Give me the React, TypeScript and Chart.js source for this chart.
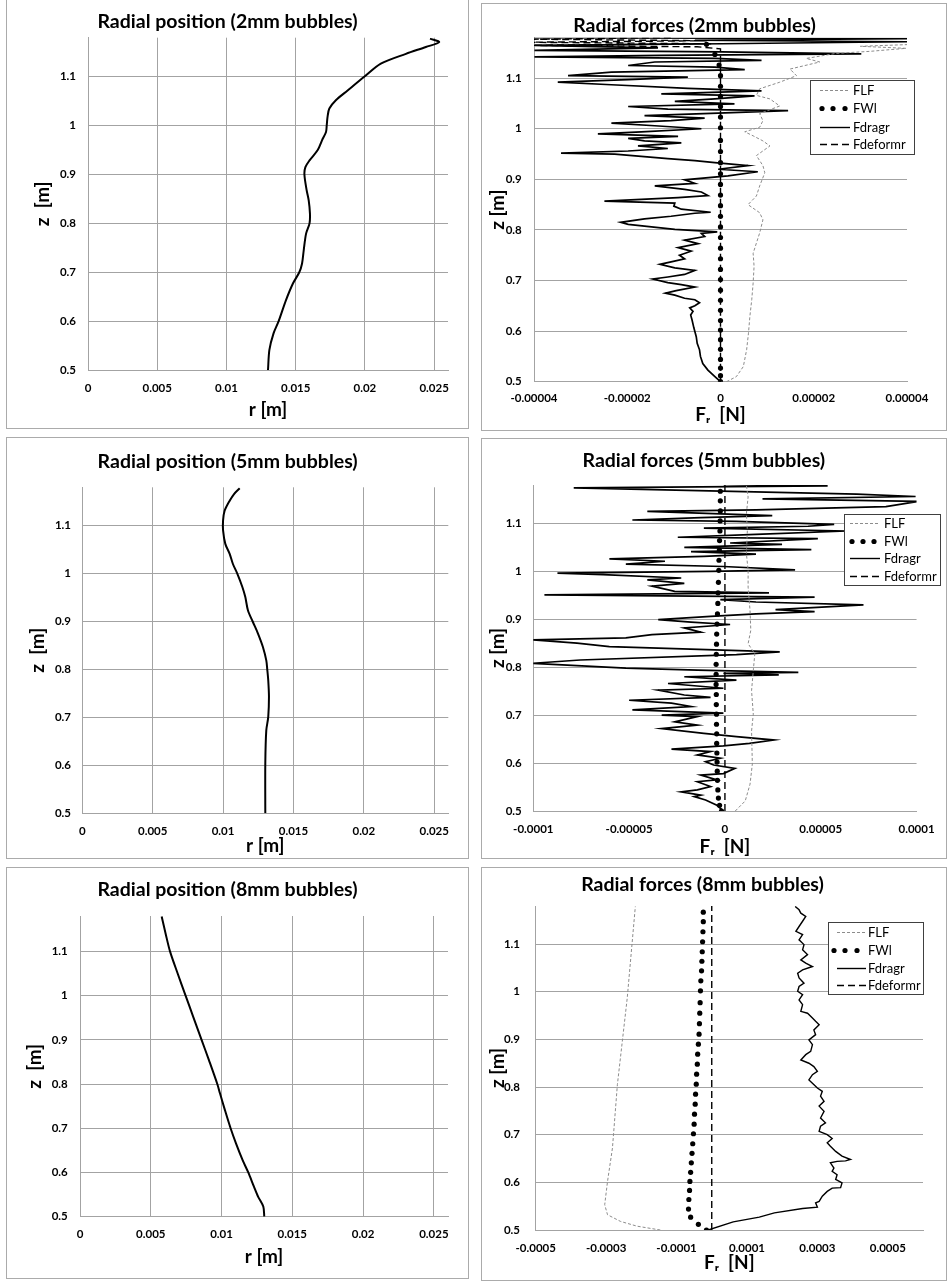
import { useEffect, useRef } from 'react';
import { Chart, registerables } from 'chart.js';

Chart.register(...registerables);

// ---------------- Radial position r(z) ----------------
const pos2Z = [0.5, 0.541, 0.575, 0.6, 0.643, 0.677, 0.7, 0.718, 0.745, 0.779, 0.8, 0.82, 0.847, 0.868, 0.9, 0.915, 0.929, 0.95, 0.97, 0.987, 1.0, 1.018, 1.035, 1.052, 1.072, 1.1, 1.127, 1.147, 1.161, 1.171, 1.178];
const pos2R = [0.013, 0.0131, 0.0134, 0.01377, 0.0143, 0.0148, 0.01526, 0.01546, 0.01558, 0.01575, 0.016, 0.01603, 0.01594, 0.01579, 0.01563, 0.0157, 0.016, 0.01659, 0.0169, 0.01719, 0.01724, 0.0173, 0.01743, 0.0179, 0.01875, 0.01995, 0.02115, 0.02296, 0.0244, 0.02536, 0.0247];

const pos5Z = [0.5, 0.604, 0.673, 0.701, 0.743, 0.777, 0.8, 0.819, 0.847, 0.875, 0.899, 0.923, 0.951, 0.972, 1.0, 1.02, 1.041, 1.062, 1.09, 1.111, 1.131, 1.152, 1.166, 1.178];
const pos5R = [0.013, 0.013, 0.01307, 0.01321, 0.01326, 0.01321, 0.01314, 0.01307, 0.01283, 0.01248, 0.01212, 0.01177, 0.01158, 0.01137, 0.01101, 0.0107, 0.01047, 0.01016, 0.01, 0.01, 0.01011, 0.01047, 0.01078, 0.01118];

const pos8Z = [0.5, 0.523, 0.545, 0.568, 0.6, 0.628, 0.666, 0.7, 0.741, 0.779, 0.8, 0.854, 0.9, 0.952, 1.0, 1.05, 1.1, 1.14, 1.179];
const pos8R = [0.01302, 0.01295, 0.01259, 0.01229, 0.01189, 0.01149, 0.01102, 0.01064, 0.01024, 0.00989, 0.0097, 0.00911, 0.00859, 0.008, 0.00746, 0.0069, 0.00636, 0.00605, 0.00577];

// ---------------- Radial forces (values in µN) ----------------
const MICRO = 1e-6;

// wall-lubrication force, sampled at the same heights in every case
const fwlZ = [0.5, 0.512, 0.527, 0.544, 0.564, 0.583, 0.602, 0.621, 0.641, 0.661, 0.681, 0.702, 0.722, 0.743, 0.764, 0.785, 0.806, 0.827, 0.848, 0.869, 0.89, 0.911, 0.933, 0.955, 0.977, 1.002, 1.023, 1.044, 1.064, 1.084, 1.105, 1.126, 1.147, 1.167];
const fwl2 = [0, 0, 0, 0, 0, 0, 0, 0, 0, 0, 0, 0, 0, 0, 0, 0, 0, 0, 0, 0, 0, 0, 0, 0, 0, 0, 0, 0, 0, 0, 0, -0.3, -1.2, -3];
const fwl5 = [-1.8, -2.8, -3.4, -3.7, -3.9, -4.0, -4.1, -4.2, -4.3, -4.3, -4.4, -4.4, -4.5, -4.5, -4.6, -4.6, -4.6, -4.5, -4.4, -4.3, -4.1, -3.9, -3.7, -3.6, -3.4, -3.2, -3.1, -2.9, -2.8, -2.6, -2.5, -2.4, -2.4, -2.4];
const fwl8 = [-15, -38, -60, -66, -65, -63, -62, -60, -58, -56, -54, -52, -50, -49, -47, -46, -44, -43, -41, -40, -38, -36, -35, -34, -33, -32, -31, -29, -28, -27, -26, -25, -24, -24];

// lift force
const flf2Z = [0.5, 0.51, 0.53, 0.563, 0.596, 0.629, 0.662, 0.695, 0.728, 0.754, 0.774, 0.794, 0.82, 0.834, 0.85, 0.867, 0.887, 0.913, 0.927, 0.947, 0.966, 0.976, 0.986, 0.994, 1.003, 1.016, 1.03, 1.045, 1.059, 1.066, 1.079, 1.092, 1.105, 1.118, 1.132, 1.139, 1.149, 1.153, 1.159, 1.163, 1.168, 1.175];
const flf2X = [1.3, 3.4, 4.9, 5.6, 6.0, 6.3, 6.7, 7.0, 7.2, 7.0, 7.7, 8.4, 9.1, 8.4, 5.9, 7.7, 8.4, 9.5, 9.1, 7.7, 10.6, 9.1, 7.0, 5.2, 8.4, 9.1, 8.4, 12.7, 10.6, 7.7, 8.4, 12.7, 16.3, 14.9, 21.3, 18.4, 24.8, 32.0, 39.8, 30, 45, 50];
const flf5Z = [0.5, 0.521, 0.556, 0.598, 0.667, 0.702, 0.751, 0.793, 0.828, 0.849, 0.877, 0.918, 0.967, 1.002, 1.037, 1.085, 1.12, 1.155, 1.179];
const flf5X = [5.4, 10.6, 13.1, 14.3, 13.9, 14.8, 13.9, 14.8, 15.6, 12.1, 13.5, 13.1, 12.1, 12.1, 11.2, 11.7, 11.2, 12.1, 11.2];
const flf8Z = [0.5, 0.508, 0.518, 0.532, 0.553, 0.602, 0.672, 0.805, 0.987, 1.179];
const flf8X = [-146, -212, -259, -296, -304, -296, -282, -268, -240, -217];

// drag force
const drag2Z = [0.5, 0.51, 0.523, 0.536, 0.55, 0.563, 0.576, 0.589, 0.606, 0.622, 0.632, 0.639, 0.646, 0.65, 0.656, 0.662, 0.665, 0.671, 0.675, 0.68, 0.687, 0.692, 0.696, 0.703, 0.707, 0.712, 0.72, 0.725, 0.732, 0.737, 0.743, 0.75, 0.758, 0.765, 0.773, 0.78, 0.787, 0.793, 0.796, 0.801, 0.806, 0.811, 0.815, 0.822, 0.827, 0.833, 0.835, 0.841, 0.847, 0.853, 0.857, 0.864, 0.868, 0.875, 0.88, 0.887, 0.892, 0.899, 0.907, 0.915, 0.92, 0.927, 0.933, 0.937, 0.941, 0.95, 0.952, 0.956, 0.961, 0.966, 0.972, 0.976, 0.981, 0.985, 0.99, 0.994, 1.0, 1.006, 1.011, 1.016, 1.021, 1.026, 1.031, 1.036, 1.039, 1.044, 1.049, 1.054, 1.059, 1.065, 1.069, 1.075, 1.08, 1.087, 1.092, 1.097, 1.102, 1.105, 1.112, 1.117, 1.122, 1.125, 1.132, 1.135, 1.139, 1.142, 1.145, 1.148, 1.152, 1.155, 1.16, 1.165, 1.168, 1.172, 1.175, 1.178, 1.18];
const drag2X = [0, -1.2, -2.7, -3.8, -4.3, -4.5, -5.0, -5.2, -5.7, -6.1, -6.4, -5.9, -6.6, -5.5, -4.5, -5.5, -7.7, -9.8, -11.8, -9.5, -5.5, -8.4, -11.3, -14.5, -11.3, -7.7, -5.5, -9.8, -13.0, -10.6, -7.7, -8.8, -6.3, -9.1, -4.8, -7.7, -3.4, -4.1, -0.7, -9.8, -14.8, -19.8, -21.4, -16.3, -10.6, -5.5, -2.1, -8.4, -10, -9.8, -24.9, -9.1, -2.7, -4.1, -7.7, -14.1, -5.5, -7.7, 1.6, 8.0, -0.5, 5.9, -1.2, -5.5, -11.3, -22.7, -34.2, -19.8, -11.3, -17.7, -8.4, -16.3, -19.8, -9.1, -26.3, -17.0, -4.1, -14.1, -23.4, -10.6, -3.4, -16.3, -0.5, 14.5, -11.3, -19.8, 3.0, -9.8, -1.2, 7.3, -12.7, 8.8, -7.0, -23.4, -34.9, -19.8, -7.0, -32.7, -23.4, 5.2, -1.2, -19.8, -14.1, 8.8, -1.2, -39.9, -12.7, 30.2, 0.2, -39.9, -13.4, -39.9, 0.2, 40.2, -5.5, 40.2, -39.9];
const drag5Z = [0.5, 0.512, 0.523, 0.53, 0.533, 0.54, 0.544, 0.551, 0.561, 0.565, 0.575, 0.578, 0.589, 0.596, 0.603, 0.61, 0.617, 0.624, 0.629, 0.636, 0.641, 0.648, 0.655, 0.662, 0.672, 0.679, 0.686, 0.697, 0.7, 0.704, 0.711, 0.718, 0.725, 0.731, 0.737, 0.742, 0.752, 0.756, 0.766, 0.773, 0.78, 0.784, 0.787, 0.789, 0.794, 0.798, 0.808, 0.815, 0.826, 0.832, 0.843, 0.85, 0.857, 0.861, 0.868, 0.873, 0.882, 0.889, 0.894, 0.899, 0.906, 0.911, 0.916, 0.92, 0.93, 0.936, 0.941, 0.946, 0.951, 0.955, 0.958, 0.969, 0.975, 0.982, 0.986, 0.993, 0.996, 1.0, 1.003, 1.01, 1.015, 1.021, 1.026, 1.031, 1.036, 1.041, 1.045, 1.05, 1.056, 1.059, 1.068, 1.071, 1.077, 1.084, 1.09, 1.094, 1.098, 1.104, 1.107, 1.112, 1.116, 1.125, 1.128, 1.135, 1.146, 1.151, 1.156, 1.161, 1.174, 1.178, 1.181];
const drag5X = [-0.8, -4.2, -10.1, -16.0, -12.6, -22.8, -14.4, -7.5, -14.4, -4.2, -12.6, -0.8, 5.2, -5.9, -10.1, -2.4, -14.4, -7.5, -27.9, -0.8, 12.8, 25.6, 6.0, -11.0, -33.0, -14.4, -26.2, -14.4, -33.0, -0.8, -48.3, -17.7, -27.9, -50.0, -7.5, -21.2, -34.8, -0.8, -29.7, 6.0, -21.2, 28.1, -0.8, 38.3, -14.4, -51.7, -101, -75.5, 6.0, 28.6, -60.3, -77.2, -101, -51.7, -38.1, -12.6, -21.2, 2.7, -17.7, -34.8, -7.5, 16.2, 46.8, 26.4, 72.3, 16.2, -2.4, 46.8, -94.2, 23.0, -26.2, -38.1, -21.2, -40.5, -22.8, -63.6, -87.4, -7.5, 36.6, -0.8, -51.7, -31.3, -60.3, -11.0, 16.2, -17.7, 45.1, -21.2, 29.8, 2.7, 48.5, -24.6, 16.2, 63.5, -11.0, 43.4, 57.0, 6.0, -48.3, -12.6, 24.7, -40.5, 16.2, 84.0, 101, 19.6, 99.5, 68.8, -78.9, 53.6, -0.8];
const drag8Z = [0.5, 0.517, 0.527, 0.536, 0.545, 0.548, 0.557, 0.56, 0.571, 0.581, 0.588, 0.589, 0.599, 0.606, 0.616, 0.623, 0.63, 0.641, 0.644, 0.645, 0.648, 0.655, 0.665, 0.676, 0.683, 0.692, 0.7, 0.707, 0.718, 0.725, 0.735, 0.749, 0.76, 0.77, 0.781, 0.791, 0.798, 0.808, 0.815, 0.826, 0.833, 0.843, 0.85, 0.857, 0.868, 0.875, 0.889, 0.899, 0.91, 0.92, 0.931, 0.938, 0.945, 0.955, 0.959, 0.973, 0.983, 0.994, 1.001, 1.011, 1.018, 1.029, 1.039, 1.046, 1.053, 1.06, 1.067, 1.078, 1.088, 1.099, 1.109, 1.12, 1.127, 1.137, 1.148, 1.158, 1.165, 1.172, 1.179];
const drag8X = [-10, 61, 135, 178, 258, 300, 295, 305, 314, 328, 342, 366, 370, 352, 356, 342, 347, 337, 356, 380, 394, 370, 352, 337, 328, 342, 328, 305, 309, 323, 309, 319, 305, 319, 309, 314, 300, 286, 276, 286, 300, 290, 276, 253, 267, 281, 286, 276, 295, 290, 305, 295, 286, 272, 253, 258, 248, 258, 244, 248, 262, 248, 244, 258, 286, 267, 253, 272, 258, 262, 248, 258, 239, 248, 258, 267, 253, 248, 237];

// deformation force
const deform2Z = [0.5, 1.158, 1.162, 1.165, 1.168, 1.171, 1.174, 1.177, 1.18];
const deform2X = [0, 0, -5, -42, -2, -42, -3, -40, -10];
const deform5Z = [0.5, 1.18];
const deform5X = [0, 0];
const deform8Z = [0.5, 1.18];
const deform8X = [0, 0];

// ---------------- Axes ----------------
const zTicks = [0.5, 0.6, 0.7, 0.8, 0.9, 1.0, 1.1];
const zTickLabels = ['0.5', '0.6', '0.7', '0.8', '0.9', '1', '1.1'];
const rTicks = [0, 0.005, 0.01, 0.015, 0.02, 0.025];
const rTickLabels = ['0', '0.005', '0.01', '0.015', '0.02', '0.025'];
const f2Ticks = [-0.00004, -0.00002, 0, 0.00002, 0.00004];
const f2TickLabels = ['-0.00004', '-0.00002', '0', '0.00002', '0.00004'];
const f5Ticks = [-0.0001, -0.00005, 0, 0.00005, 0.0001];
const f5TickLabels = ['-0.0001', '-0.00005', '0', '0.00005', '0.0001'];
const f8Ticks = [-0.0005, -0.0003, -0.0001, 0.0001, 0.0003, 0.0005];
const f8TickLabels = ['-0.0005', '-0.0003', '-0.0001', '0.0001', '0.0003', '0.0005'];

const FONT = 'Lato, "Open Sans", "DejaVu Sans", sans-serif';
const GRID = '#a3a3a3';
const TITLE_SIZE = 19.5;
const AXIS_SIZE = 19;
const TICK_SIZE = 11.5;
const LH = 1.2;

type Geo = {
  cx: number; cy: number; cw: number; ch: number;
  l: number; r: number; t: number; b: number;
  titleY: number; yTitleX: number; xTitleY: number; yPad: number; xPad: number;
};

type LegendGeo = { x: number; y: number; w: number; h: number; rows: number[]; s0: number; s1: number; dots: number[]; tx: number };

const pts = (xs: number[], ys: number[], k = 1) => xs.map((x, i) => ({ x: x * k, y: ys[i] }));

function boxLegend(lg: LegendGeo) {
  return {
    id: 'boxLegend',
    afterDraw(chart: any) {
      const { ctx } = chart;
      ctx.save();
      ctx.fillStyle = '#ffffff';
      ctx.fillRect(lg.x, lg.y, lg.w, lg.h);
      ctx.strokeStyle = '#404040';
      ctx.lineWidth = 1;
      ctx.strokeRect(lg.x + 0.5, lg.y + 0.5, lg.w, lg.h);
      chart.data.datasets.forEach((ds: any, i: number) => {
        const ry = lg.y + lg.rows[i] + 0.5;
        if (ds.showLine === false) {
          ctx.fillStyle = '#000';
          lg.dots.forEach((dx) => {
            ctx.beginPath();
            ctx.arc(lg.x + dx, ry, ds.pointRadius, 0, Math.PI * 2);
            ctx.fill();
          });
        } else {
          ctx.strokeStyle = ds.borderColor;
          ctx.lineWidth = Math.min(ds.borderWidth, 1.4);
          ctx.setLineDash(ds.borderDash || []);
          ctx.beginPath();
          ctx.moveTo(lg.x + lg.s0, ry);
          ctx.lineTo(lg.x + lg.s1, ry);
          ctx.stroke();
          ctx.setLineDash([]);
        }
        ctx.fillStyle = '#000';
        ctx.font = `13px ${FONT}`;
        ctx.textBaseline = 'middle';
        ctx.textAlign = 'left';
        ctx.fillText(ds.label, lg.x + lg.tx, ry);
      });
      ctx.restore();
    },
  };
}

function buildOptions(g: Geo, title: string, xMin: number, xMax: number, xTicks: number[], xLabels: string[], xTitle: string, yTitle: string, fullGrid: boolean) {
  const tLH = TITLE_SIZE * LH;
  const aLH = AXIS_SIZE * LH;
  const tickFont = { family: FONT, size: TICK_SIZE, weight: 'bold' as const };
  const axisFont = { family: FONT, size: AXIS_SIZE, weight: 'bold' as const, lineHeight: LH };
  return {
    responsive: false,
    animation: false as const,
    events: [] as any[],
    layout: { padding: { left: 0, top: 0, right: g.cw - g.r, bottom: 0 }, autoPadding: false },
    plugins: {
      legend: { display: false },
      tooltip: { enabled: false },
      title: {
        display: true,
        text: title,
        color: '#000',
        font: { family: FONT, size: TITLE_SIZE, weight: 'bold' as const, lineHeight: LH },
        padding: { top: Math.max(0, g.titleY - tLH / 2), bottom: Math.max(0, g.t - g.titleY - tLH / 2) },
      },
    },
    scales: {
      x: {
        type: 'linear' as const,
        min: xMin,
        max: xMax,
        afterBuildTicks: (s: any) => { s.ticks = xTicks.map((v) => ({ value: v })); },
        afterFit: (s: any) => { s.height = g.ch - g.b; },
        ticks: { autoSkip: false, maxRotation: 0, padding: g.xPad, color: '#000', font: tickFont, callback: (_v: any, i: number) => xLabels[i] },
        grid: { display: fullGrid, color: GRID, lineWidth: 1, drawTicks: false },
        border: { display: true, color: GRID, width: 1 },
        title: { display: true, text: xTitle, color: '#000', font: axisFont, padding: { top: 0, bottom: Math.max(0, g.ch - g.xTitleY - aLH / 2) } },
      },
      y: {
        type: 'linear' as const,
        min: 0.5,
        max: 1.18,
        afterBuildTicks: (s: any) => { s.ticks = zTicks.map((v) => ({ value: v })); },
        afterFit: (s: any) => { s.width = g.l; },
        ticks: { autoSkip: false, padding: g.yPad, color: '#000', font: tickFont, callback: (_v: any, i: number) => zTickLabels[i] },
        grid: { display: true, color: GRID, lineWidth: 1, drawTicks: false },
        border: { display: true, color: GRID, width: 1 },
        title: { display: true, text: yTitle, color: '#000', font: axisFont, padding: { top: Math.max(0, g.yTitleX - aLH / 2), bottom: 0 } },
      },
    },
  };
}

type PositionSpec = { kind: 'position'; geo: Geo; title: string; z: number[]; r: number[] };
type ForceSpec = {
  kind: 'force'; geo: Geo; title: string; legend: LegendGeo; dragWidth: number;
  xMin: number; xMax: number; xTicks: number[]; xLabels: string[];
  flf: [number[], number[]]; fwl: number[]; drag: [number[], number[]]; deform: [number[], number[]];
};

function PanelChart({ spec }: { spec: PositionSpec | ForceSpec }) {
  const ref = useRef<HTMLCanvasElement>(null);
  useEffect(() => {
    if (!ref.current) return;
    const g = spec.geo;
    let chart: Chart;
    if (spec.kind === 'position') {
      chart = new Chart(ref.current, {
        type: 'scatter',
        data: {
          datasets: [{
            label: 'r',
            data: pts(spec.r, spec.z),
            showLine: true,
            borderColor: '#000',
            borderWidth: 2,
            pointRadius: 0,
            tension: 0.3,
          }],
        },
        options: buildOptions(g, spec.title, 0, 0.026, rTicks, rTickLabels, 'r [m]', 'z  [m]', true) as any,
      });
    } else {
      chart = new Chart(ref.current, {
        type: 'scatter',
        data: {
          datasets: [
            { label: 'FLF', data: pts(spec.flf[1], spec.flf[0], MICRO), showLine: true, borderColor: '#8c8c8c', borderWidth: 1, borderDash: [3, 2], pointRadius: 0 },
            { label: 'FWl', data: pts(spec.fwl, fwlZ, MICRO), showLine: false, pointRadius: 2.6, pointBackgroundColor: '#000', pointBorderWidth: 0, borderColor: '#000' },
            { label: 'Fdragr', data: pts(spec.drag[1], spec.drag[0], MICRO), showLine: true, borderColor: '#000', borderWidth: spec.dragWidth, pointRadius: 0 },
            { label: 'Fdeformr', data: pts(spec.deform[1], spec.deform[0], MICRO), showLine: true, borderColor: '#000', borderWidth: 1.4, borderDash: [7, 4], pointRadius: 0 },
          ],
        },
        options: buildOptions(g, spec.title, spec.xMin, spec.xMax, spec.xTicks, spec.xLabels, 'Fᵣ  [N]', 'z [m]', false) as any,
        plugins: [boxLegend(spec.legend)],
      });
    }
    return () => chart.destroy();
  }, [spec]);
  const g = spec.geo;
  return (
    <div style={{ position: 'absolute', left: g.cx - 1, top: g.cy - 1, width: g.cw + 2, height: g.ch + 2, boxSizing: 'border-box', border: '1px solid #ababab', background: '#fff' }}>
      <canvas ref={ref} width={g.cw} height={g.ch} style={{ display: 'block', width: g.cw, height: g.ch }} />
    </div>
  );
}

const panels: (PositionSpec | ForceSpec)[] = [
  {
    kind: 'position', title: 'Radial position (2mm bubbles)', z: pos2Z, r: pos2R,
    geo: { cx: 7, cy: 0, cw: 461, ch: 428, l: 81, r: 441, t: 37.7, b: 370, titleY: 22, yTitleX: 36, xTitleY: 410, yPad: 12, xPad: 11 },
  },
  {
    kind: 'force', title: 'Radial forces (2mm bubbles)', dragWidth: 1.7,
    geo: { cx: 482, cy: 4, cw: 464, ch: 426, l: 52, r: 425, t: 33.7, b: 377.7, titleY: 22, yTitleX: 15.5, xTitleY: 411, yPad: 12.3, xPad: 9.4 },
    legend: { x: 328, y: 76, w: 104, h: 74, rows: [10, 28, 47, 64], s0: 10, s1: 40, dots: [12, 23, 35], tx: 43 },
    xMin: -0.00004, xMax: 0.00004, xTicks: f2Ticks, xLabels: f2TickLabels,
    flf: [flf2Z, flf2X], fwl: fwl2, drag: [drag2Z, drag2X], deform: [deform2Z, deform2X],
  },
  {
    kind: 'position', title: 'Radial position (5mm bubbles)', z: pos5Z, r: pos5R,
    geo: { cx: 7, cy: 438, cw: 461, ch: 420, l: 75.3, r: 441.3, t: 49.3, b: 375.3, titleY: 23.5, yTitleX: 30.5, xTitleY: 408, yPad: 11.3, xPad: 11 },
  },
  {
    kind: 'force', title: 'Radial forces (5mm bubbles)', dragWidth: 1.7,
    geo: { cx: 482, cy: 439, cw: 464, ch: 419, l: 51.3, r: 443.7, t: 46, b: 372, titleY: 22, yTitleX: 15.5, xTitleY: 408, yPad: 11.6, xPad: 11.4 },
    legend: { x: 362, y: 75, w: 96, h: 71, rows: [9, 27, 44, 62], s0: 6, s1: 36, dots: [8, 19, 30], tx: 40 },
    xMin: -0.0001, xMax: 0.0001, xTicks: f5Ticks, xLabels: f5TickLabels,
    flf: [flf5Z, flf5X], fwl: fwl5, drag: [drag5Z, drag5X], deform: [deform5Z, deform5X],
  },
  {
    kind: 'position', title: 'Radial position (8mm bubbles)', z: pos8Z, r: pos8R,
    geo: { cx: 7, cy: 868, cw: 461, ch: 410, l: 73, r: 441, t: 48, b: 348.7, titleY: 22, yTitleX: 28.3, xTitleY: 388.5, yPad: 12.3, xPad: 10.7 },
  },
  {
    kind: 'force', title: 'Radial forces (8mm bubbles)', dragWidth: 1.4,
    geo: { cx: 482, cy: 868, cw: 464, ch: 412, l: 53.7, r: 441, t: 38, b: 362, titleY: 17, yTitleX: 15.5, xTitleY: 395, yPad: 15.7, xPad: 10.9 },
    legend: { x: 346, y: 54, w: 95, h: 72, rows: [10, 28, 46, 63], s0: 9, s1: 38, dots: [6, 17, 29], tx: 40 },
    xMin: -0.0005, xMax: 0.0006, xTicks: f8Ticks, xLabels: f8TickLabels,
    flf: [flf8Z, flf8X], fwl: fwl8, drag: [drag8Z, drag8X], deform: [deform8Z, deform8X],
  },
];

export default function App() {
  return (
    <div style={{ position: 'absolute', left: 0, top: 0, width: 947, height: 1281, background: '#fff', overflow: 'hidden' }}>
      {panels.map((p, i) => <PanelChart key={i} spec={p} />)}
    </div>
  );
}
